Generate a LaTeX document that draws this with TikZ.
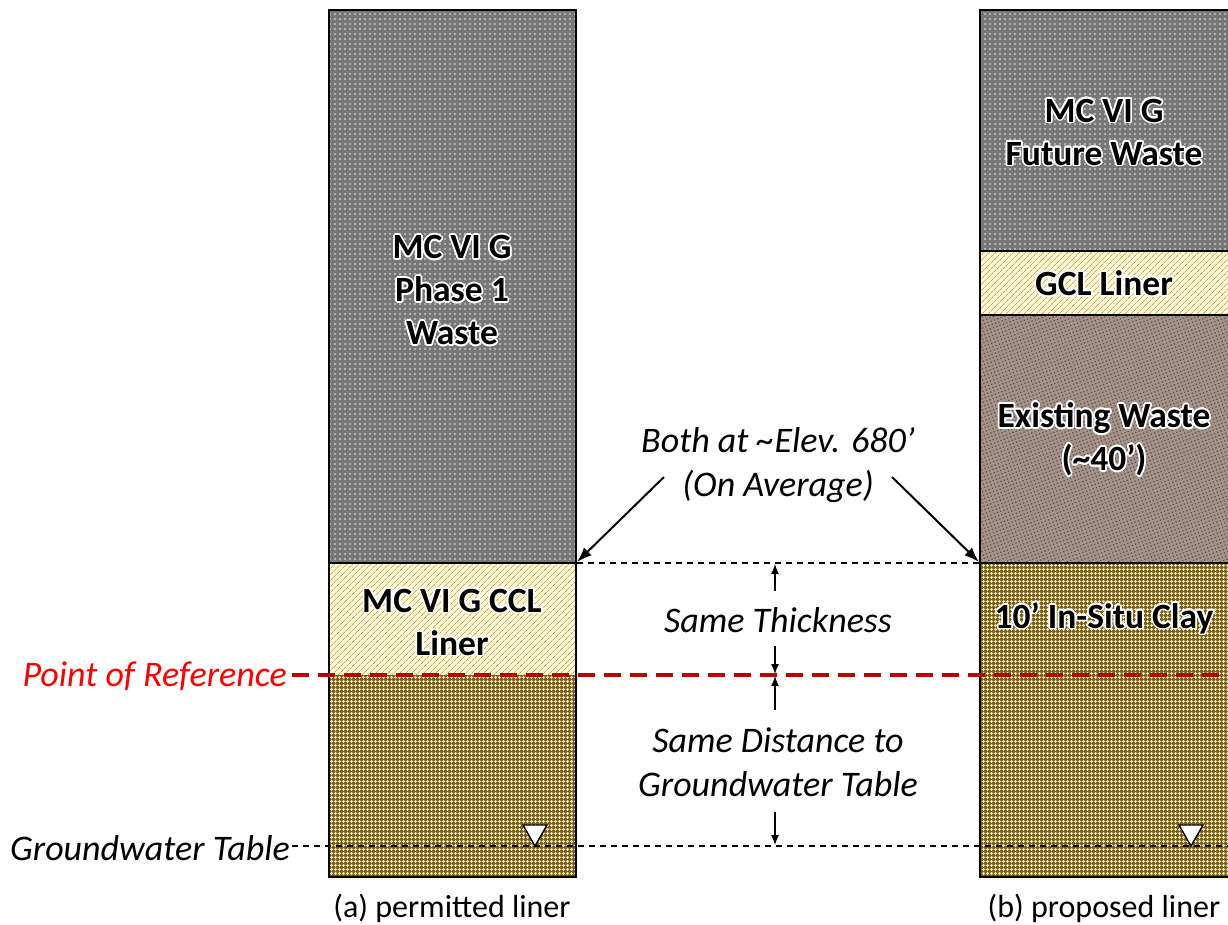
\documentclass[tikz,border=0pt]{standalone}
\usepackage{fontspec}
\setmainfont{Carlito}
\usepackage{contour}
\contourlength{1.7pt}
\usetikzlibrary{patterns.meta,arrows.meta}
\definecolor{wastebase}{HTML}{777777}
\definecolor{wastedot}{HTML}{C8C8C8}
\definecolor{linerbase}{HTML}{FFF8DC}
\definecolor{linerline}{HTML}{CDA634}
\definecolor{claybase}{HTML}{7A5E12}
\definecolor{claygrid}{HTML}{EDE2B8}
\definecolor{exbase}{HTML}{A59389}
\definecolor{exdot}{HTML}{5E524B}
\definecolor{refred}{HTML}{C00000}
\definecolor{textred}{HTML}{FF0000}
\newcommand{\gl}[1]{\contour{white}{#1}}
\begin{document}
\begin{tikzpicture}[x=1pt,y=-1pt,
  waste/.style={preaction={fill=wastebase},pattern={Dots[radius=1.1pt,distance=5pt]},pattern color=wastedot},
  liner/.style={preaction={fill=linerbase},pattern={Lines[angle=45,distance=4pt,line width=0.8pt]},pattern color=linerline},
  clay/.style={preaction={fill=claybase},pattern={Hatch[angle=0,distance=4pt,line width=1.1pt]},pattern color=claygrid},
  exwaste/.style={preaction={fill=exbase},pattern={Dots[radius=0.9pt,distance=3.5pt,angle=20]},pattern color=exdot},
  border/.style={draw=black,line width=1.6pt},
  layerlabel/.style={font=\fontsize{35.5}{43}\selectfont\bfseries,align=center},
  note/.style={font=\fontsize{36}{44}\selectfont\itshape,align=center},
  captiontext/.style={font=\fontsize{32}{36}\selectfont},
  refline/.style={draw=refred,line width=3.6pt,dash pattern=on 17pt off 9pt},
  gwline/.style={draw=black,line width=1.2pt,dash pattern=on 6pt off 5pt},
  topline/.style={draw=black,line width=1.2pt,dash pattern=on 6pt off 5pt},
  dimarrow/.style={-{Latex[length=10pt,width=8pt]},line width=1.3pt},
  bigarrow/.style={-{Latex[length=15pt,width=11pt]},line width=2pt},
  gwmark/.style={fill=white,draw=black,line width=1.4pt,line join=miter}]
\useasboundingbox (0,0) rectangle (1228,924);

% ---------- left column (permitted liner) ----------
\path[waste] (329,10) rectangle (576,563);
\path[liner] (329,563) rectangle (576,675);
\path[clay]  (329,675) rectangle (576,877);
\draw[border] (329,563) -- (576,563);
\draw[border] (329,10) rectangle (576,877);

% ---------- right column (proposed liner) ----------
\path[waste]   (980,10) rectangle (1230,251);
\path[liner]   (980,251) rectangle (1230,315);
\path[exwaste] (980,315) rectangle (1230,563);
\path[clay]    (980,563) rectangle (1230,877);
\draw[border] (980,251) -- (1230,251);
\draw[border] (980,315) -- (1230,315);
\draw[border] (980,563) -- (1230,563);
\draw[border] (1230,10) -- (980,10) -- (980,877) -- (1230,877);

% ---------- key coordinates ----------
\coordinate (Lcorner) at (577,562);
\coordinate (Rcorner) at (979,562);
\coordinate (topR) at (980,563);
\coordinate (refL) at (292,675);
\coordinate (refR) at (1228,675);
\coordinate (gwL) at (292,846);
\coordinate (gwR) at (1228,846);

% ---------- layer labels ----------
\node[layerlabel] (wasteA) at (452,291) {\gl{MC VI G}\\\gl{Phase 1}\\\gl{Waste}};
\node[layerlabel] (cclA) at (452,623) {\gl{MC VI G CCL}\\\gl{Liner}};
\node[layerlabel] (wasteB) at (1104,133) {\gl{MC VI G}\\\gl{Future Waste}};
\node[layerlabel] (gclB) at (1104,284) {\gl{GCL Liner}};
\node[layerlabel] (exB) at (1104,440) {\gl{Existing Waste}\\\gl{(\textasciitilde40’)}};
\node[layerlabel] (clayB) at (1104,619) {\gl{10’ In-Situ Clay}};

% ---------- reference lines ----------
\draw[topline] (Lcorner |- topR) -- (topR);
\draw[refline] (refL) -- (refR);
\draw[gwline] (gwL) -- (gwR);

% groundwater markers
\draw[gwmark] (523,825) -- (547,825) -- (535,846) -- cycle;
\draw[gwmark] (1179,825) -- (1203,825) -- (1191,846) -- cycle;

% ---------- left labels ----------
\node[note,text=textred,anchor=east,inner sep=0pt] (poref) at (287,676) {Point of Reference};
\node[note,anchor=east,inner sep=0pt] (gwt) at (290,848) {Groundwater Table};

% ---------- middle notes ----------
\node[note] (elev) at (778,465) {Both at \textasciitilde Elev. 680’\\(On Average)};
\node[note] (thick) at (778,620) {Same Thickness};
\node[note] (dist) at (778,762) {Same Distance to\\Groundwater Table};

\coordinate (a1) at (664,477);
\coordinate (a2) at (892,477);
\draw[bigarrow] (a1) -- (Lcorner);
\draw[bigarrow] (a2) -- (Rcorner);

\coordinate (t1) at (775,591);
\coordinate (t1e) at (775,564);
\coordinate (t2) at (775,646);
\coordinate (t2e) at (775,674);
\coordinate (d1) at (775,710);
\coordinate (d1e) at (775,676);
\coordinate (d2) at (775,812);
\coordinate (d2e) at (775,845);
\draw[dimarrow] (t1) -- (t1e);
\draw[dimarrow] (t2) -- (t2e);
\draw[dimarrow] (d1) -- (d1e);
\draw[dimarrow] (d2) -- (d2e);

% ---------- captions ----------
\node[captiontext] (capA) at (452,908) {(a) permitted liner};
\node[captiontext] (capB) at (1104,908) {(b) proposed liner};
\end{tikzpicture}
\end{document}
